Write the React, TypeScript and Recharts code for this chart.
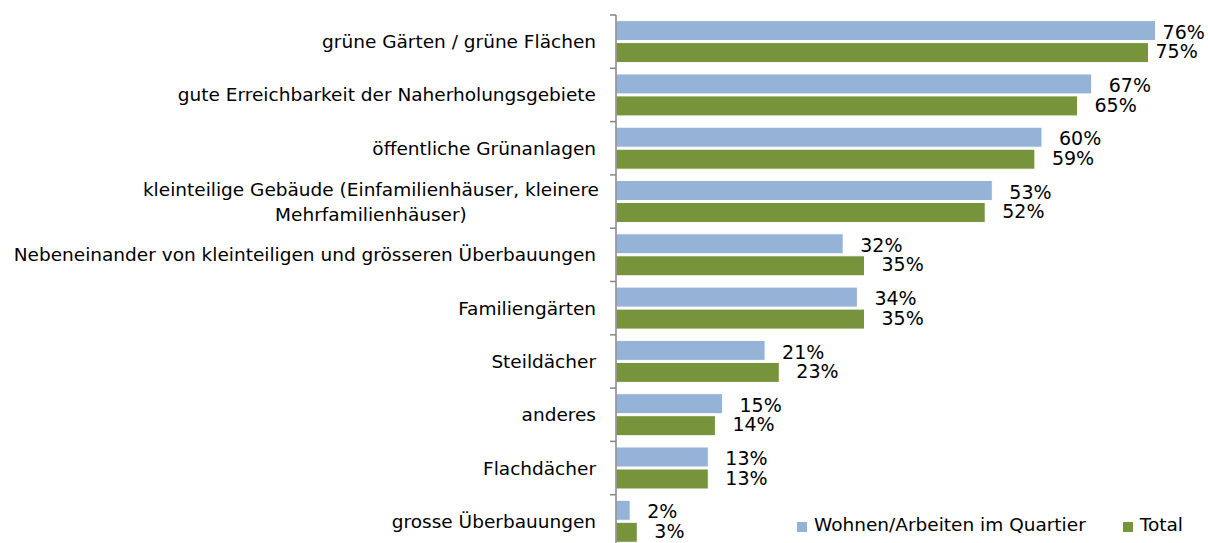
import React from 'react';
import { BarChart, Bar, XAxis, YAxis, LabelList, Legend } from 'recharts';

const categories = [
  'grüne Gärten / grüne Flächen',
  'gute Erreichbarkeit der Naherholungsgebiete',
  'öffentliche Grünanlagen',
  'kleinteilige Gebäude (Einfamilienhäuser, kleinere\nMehrfamilienhäuser)',
  'Nebeneinander von kleinteiligen und grösseren Überbauungen',
  'Familiengärten',
  'Steildächer',
  'anderes',
  'Flachdächer',
  'grosse Überbauungen',
];
const quartierValues = [76, 67, 60, 53, 32, 34, 21, 15, 13, 2];
const totalValues = [75, 65, 59, 52, 35, 35, 23, 14, 13, 3];
const seriesNames = ['Wohnen/Arbeiten im Quartier', 'Total'];
const seriesColors = ['#95B3D7', '#77933C'];

const data = categories.map((name, i) => ({
  name,
  quartier: quartierValues[i],
  total: totalValues[i],
}));

const FONT = '"DejaVu Sans", Verdana, sans-serif';
const FONT_SIZE = 18.5;
const LABEL_SIZE = 19;
const CHART_W = 1208;
const CHART_H = 550;
// plot area: x 616..1184, y 15..548 (bottom falls just past the visible frame)
const MARGIN = { top: 15, right: 24, bottom: 2, left: 0 };
const AXIS_W = 616;
const PLOT_H = CHART_H - MARGIN.top - MARGIN.bottom;
const BAND = PLOT_H / categories.length;

let ctx: CanvasRenderingContext2D | null = null;
const measure = (s: string) => {
  if (!ctx) ctx = document.createElement('canvas').getContext('2d');
  if (!ctx) return s.length * 10;
  ctx.font = `${FONT_SIZE}px ${FONT}`;
  return ctx.measureText(s).width;
};

const CategoryTick = ({ y, payload, index }: any) => {
  const lines: string[] = String(payload.value).split('\n');
  const right = AXIS_W - 20;
  const axisX = AXIS_W;
  const top = y - BAND / 2;
  const ticks = [top];
  if (index === categories.length - 1) ticks.push(top + BAND);
  let text;
  if (lines.length === 1) {
    text = (
      <text x={right} y={y} dy="0.35em" textAnchor="end" fill="#000" fontSize={FONT_SIZE} fontFamily={FONT}>
        {lines[0]}
      </text>
    );
  } else {
    const widths = lines.map(measure);
    const maxW = Math.max(...widths);
    const cx = right - maxW / 2 + 3;
    text = (
      <text textAnchor="middle" fill="#000" fontSize={FONT_SIZE} fontFamily={FONT}>
        {lines.map((l, i) => (
          <tspan key={i} x={cx} y={y + (i - (lines.length - 1) / 2) * 25} dy="0.35em">
            {l}
          </tspan>
        ))}
      </text>
    );
  }
  return (
    <g>
      {ticks.map((t, i) => (
        <line key={i} x1={axisX - 6} x2={axisX} y1={t} y2={t} stroke="#868686" strokeWidth={1.5} />
      ))}
      {text}
    </g>
  );
};

const makeLabel = (dy: number) => (props: any) => {
  const { x, y, width, height, value } = props;
  const offset = value > 70 ? 7 : 17;
  return (
    <text
      x={x + width + offset}
      y={y + height / 2 + dy}
      dy="0.35em"
      fill="#000"
      fontSize={LABEL_SIZE}
      fontFamily={FONT}
    >
      {value}%
    </text>
  );
};

const LegendContent = () => (
  <div style={{ display: 'flex', alignItems: 'center', fontFamily: FONT, fontSize: 18.5, color: '#000', lineHeight: '24px', whiteSpace: 'nowrap' }}>
    {seriesNames.map((n, i) => (
      <div key={n} style={{ display: 'flex', alignItems: 'center', marginRight: i === 0 ? 37 : 0 }}>
        <span style={{ width: 10, height: 10, background: seriesColors[i], marginRight: 7, marginTop: 3, display: 'inline-block' }} />
        <span>{n}</span>
      </div>
    ))}
  </div>
);

export default function App() {
  return (
    <div style={{ width: CHART_W, height: 543, overflow: 'hidden', position: 'relative' }}>
      <style>{'body{margin:0}'}</style>
      <BarChart
        width={CHART_W}
        height={CHART_H}
        data={data}
        layout="vertical"
        margin={MARGIN}
        barCategoryGap="10.5%"
        barGap={2}
        style={{ overflow: 'visible' }}
      >
        <XAxis type="number" domain={[0, 80]} hide />
        <YAxis
          type="category"
          dataKey="name"
          width={AXIS_W}
          axisLine={{ stroke: '#868686', strokeWidth: 1.5 }}
          tickLine={false}
          tick={<CategoryTick />}
          interval={0}
        />
        <Legend
          layout="horizontal"
          verticalAlign="middle"
          align="center"
          wrapperStyle={{ top: 513, left: 797, width: 410, height: 24 }}
          content={<LegendContent />}
        />
        <Bar dataKey="quartier" name={seriesNames[0]} fill={seriesColors[0]} stroke="#fff" strokeWidth={1} isAnimationActive={false}>
          <LabelList dataKey="quartier" content={makeLabel(1.5)} />
        </Bar>
        <Bar dataKey="total" name={seriesNames[1]} fill={seriesColors[1]} stroke="#fff" strokeWidth={1} isAnimationActive={false}>
          <LabelList dataKey="total" content={makeLabel(-1)} />
        </Bar>
      </BarChart>
    </div>
  );
}
